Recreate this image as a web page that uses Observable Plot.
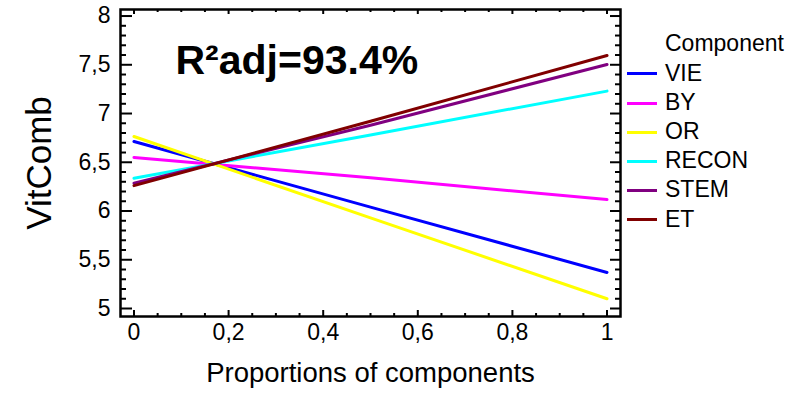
<!DOCTYPE html>
<html><head><meta charset="utf-8">
<script src="https://cdn.jsdelivr.net/npm/d3@7"></script>
<script src="https://cdn.jsdelivr.net/npm/@observablehq/plot@0.6"></script>
<style>
body{margin:0;background:#fff;font-family:"Liberation Sans",Arial,sans-serif;}
#wrap{position:relative;width:807px;height:393px;overflow:hidden;}
#legend{position:absolute;left:627px;top:0;font-size:23px;color:#000;}
.row{position:absolute;left:0;white-space:nowrap;height:29px;line-height:29px;}
.sw{display:inline-block;width:30px;height:3px;vertical-align:middle;margin-right:8px;position:relative;top:-1px;}
</style></head><body><div id="wrap"><div id="legend"></div></div>
<script>
// ---- data ----
const components = ["VIE", "BY", "OR", "RECON", "STEM", "ET"];
const colors = ["#0000ff", "#ff00ff", "#ffff00", "#00ffff", "#800080", "#800000"];
const proportions = [0, 0.5, 1];
const VIE   = [6.713, 6.04, 5.37];
const BY    = [6.550, 6.34, 6.118];
const OR    = [6.764, 5.93, 5.10];
const RECON = [6.336, 6.78, 7.23];
const STEM  = [6.285, 6.88, 7.503];
const ET    = [6.260, 6.92, 7.595];
const series = {VIE, BY, OR, RECON, STEM, ET};

const xTicks = [0, 0.2, 0.4, 0.6, 0.8, 1];
const xTickLabels = ["0", "0,2", "0,4", "0,6", "0,8", "1"];
const yTicks = [5, 5.5, 6, 6.5, 7, 7.5, 8];
const yTickLabels = ["5", "5,5", "6", "6,5", "7", "7,5", "8"];
const xTitle = "Proportions of components";
const yTitle = "VitComb";
const legendTitle = "Component";
const annotation = ["R²adj=93.4%"];

// ---- table for Plot ----
const rows = [];
components.forEach(c => proportions.forEach((p, i) => rows.push({component: c, x: p, y: series[c][i]})));

const xMinor = d3.range(0, 1.0001, 0.05).map(v => +v.toFixed(2));
const yMinor = d3.range(5, 8.0001, 0.1).map(v => +v.toFixed(1)).filter(v => !yTicks.includes(v));
const xMinorOnly = xMinor.filter(v => !xTicks.includes(v));

const W = 500, H = 307;
const font = "Liberation Sans, Arial, sans-serif";

const chart = Plot.plot({
  width: 807, height: 393,
  marginLeft: 120, marginRight: 187, marginTop: 9, marginBottom: 77,
  style: {fontFamily: font, background: "white", color: "black"},
  x: {domain: [-0.0285, 1.0285]},
  y: {domain: [4.918, 8.067]},
  color: {domain: components, range: colors},
  marks: [
    // inward ticks: bottom
    Plot.ruleX(xTicks, {x: d => d, insetTop: H - 6, stroke: "black", strokeWidth: 2}),
    Plot.ruleX(xMinorOnly, {x: d => d, insetTop: H - 3, stroke: "black", strokeWidth: 2}),
    // top
    Plot.ruleX(xTicks, {x: d => d, insetBottom: H - 5, stroke: "black", strokeWidth: 2}),
    Plot.ruleX(xMinorOnly, {x: d => d, insetBottom: H - 3, stroke: "black", strokeWidth: 2}),
    // left
    Plot.ruleY(yTicks, {y: d => d, insetRight: W - 12, stroke: "black", strokeWidth: 2}),
    Plot.ruleY(yMinor, {y: d => d, insetRight: W - 6, stroke: "black", strokeWidth: 2}),
    // right
    Plot.ruleY(yTicks, {y: d => d, insetLeft: W - 10, stroke: "black", strokeWidth: 2}),
    Plot.ruleY(yMinor, {y: d => d, insetLeft: W - 5, stroke: "black", strokeWidth: 2}),
    Plot.lineY(rows, {x: "x", y: "y", z: "component", stroke: "component", strokeWidth: 3}),
    Plot.frame({stroke: "black", strokeWidth: 2.5}),
    Plot.axisX(xTicks, {tickSize: 0, tickPadding: 7, fontSize: 23, tickFormat: d => xTickLabels[xTicks.indexOf(d)], label: null}),
    Plot.axisY(yTicks, {tickSize: 0, tickPadding: 10, fontSize: 23, tickFormat: d => yTickLabels[yTicks.indexOf(d)], label: null}),
    Plot.text([xTitle], {frameAnchor: "bottom", dy: 65, lineAnchor: "bottom", textAnchor: "middle", fontSize: 27.5, fill: "black"}),
    Plot.text([yTitle], {frameAnchor: "left", dx: -70, rotate: -90, lineAnchor: "bottom", textAnchor: "middle", fontSize: 35, fill: "black"}),
    Plot.text(annotation, {frameAnchor: "top-left", dx: 55, dy: 64, lineAnchor: "bottom", textAnchor: "start", fontSize: 41, fontWeight: "bold", fill: "black"})
  ]
});
document.getElementById("wrap").prepend(chart);

// ---- legend ----
const legend = document.getElementById("legend");
const t = document.createElement("div");
t.className = "row"; t.style.top = "28.5px"; t.style.left = "38px"; t.textContent = legendTitle;
legend.appendChild(t);
components.forEach((c, i) => {
  const r = document.createElement("div");
  r.className = "row";
  r.style.top = (59 + i * 29.1) + "px";
  const sw = document.createElement("span");
  sw.className = "sw"; sw.style.background = colors[i];
  r.appendChild(sw);
  r.appendChild(document.createTextNode(c));
  legend.appendChild(r);
});
</script></body></html>
